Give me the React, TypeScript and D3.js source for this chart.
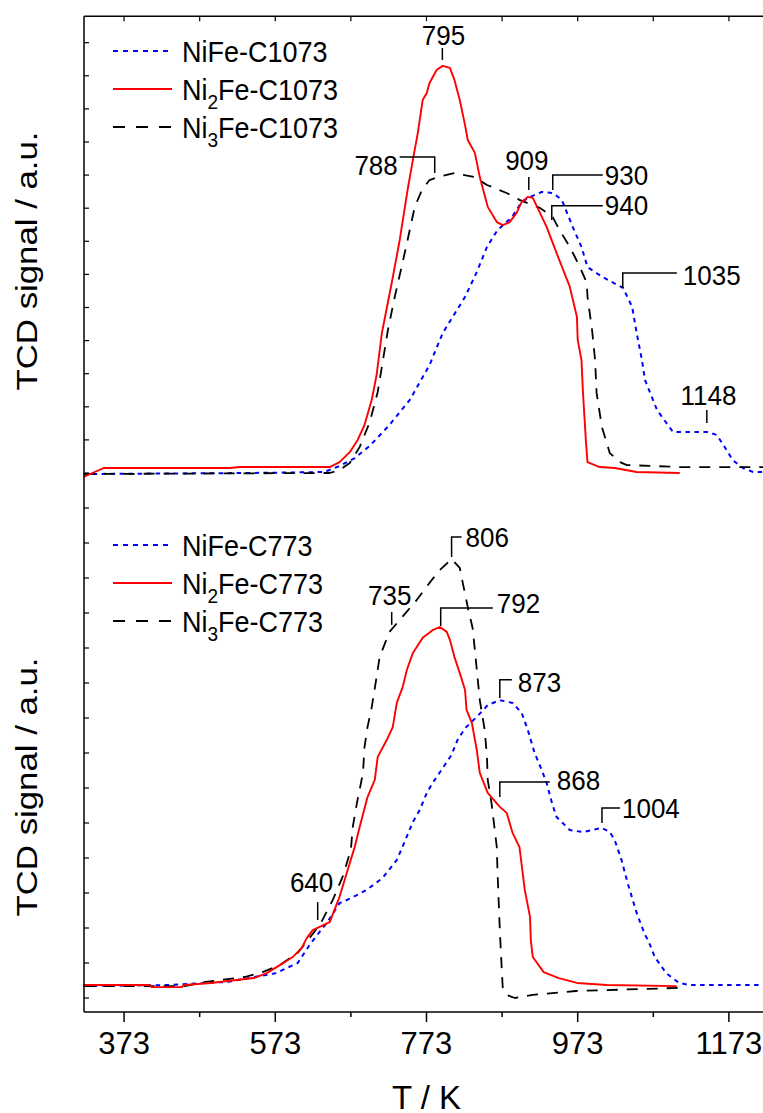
import React from 'react';
import * as d3 from 'd3';

// ---------- axis ticks ----------
const xTicksMajor = [373, 573, 773, 973, 1173];
const xTicksMinor = [473, 673, 873, 1073];
const xTicksTop = [373, 473, 573, 673, 773, 873, 973, 1073, 1173];
const yTicksTop = d3.range(0, 14, 1);
const yTicksBot = d3.range(0, 15, 1);

// ---------- data: [T (K), TCD signal (a.u.)] ----------
// Top panel (calcined at 1073 K)
const nife1073: [number, number][] = [
  [319.5, -0.03], [539, 0], [638, 0.03], [658, 0.21], [678, 0.45], [698, 0.82], [724, 1.45], [751, 2.21],
  [777, 3.26], [794.5, 4.23], [824, 5.32], [839.5, 6.07], [853, 6.83], [867, 7.34], [886, 7.73], [899, 8.19],
  [910, 8.34], [925.5, 8.49], [940, 8.46], [952, 8.25], [966.5, 7.43], [978, 6.83], [986, 6.22], [1006, 5.92],
  [1033, 5.59], [1045, 5.02], [1051, 4.23], [1058, 3.41], [1062, 2.81], [1078, 1.9], [1099, 1.24], [1121, 1.24],
  [1144, 1.24], [1157, 1.15], [1170, 0.69], [1178, 0.39], [1191.5, 0.15], [1205, 0.03], [1227, 0.03],
];
const ni2fe1073: [number, number][] = [
  [319.5, -0.12], [334, 0.03], [346, 0.15], [513, 0.15], [526, 0.18], [645, 0.18], [658, 0.33], [671.5, 0.63],
  [682, 1.0], [691, 1.45], [700.6, 2.21], [707, 2.96], [714, 4.23], [727, 5.74], [737.6, 7.04], [748, 8.55],
  [755, 9.46], [761.5, 10.27], [768, 11.27], [773.4, 11.48], [777, 11.78], [786.6, 12.18], [794.5, 12.3],
  [804, 12.24], [810, 11.87], [817, 11.27], [824, 10.51], [827.6, 10.06], [837, 9.67], [843.5, 8.94], [854, 8.04],
  [866, 7.58], [874, 7.49], [883, 7.58], [892, 7.85], [899, 8.19], [907, 8.34], [913.6, 8.31], [920, 8.01],
  [932, 7.43], [945, 6.65], [962.6, 5.62], [972, 4.71], [973, 4.02], [978, 3.41], [980, 2.42], [984, 0.91],
  [986, 0.33], [1002, 0.18], [1022, 0.15], [1051, 0.03], [1108, 0],
];
const ni3fe1073: [number, number][] = [
  [319.5, -0.03], [645, 0], [658, 0.09], [671.5, 0.3], [684.7, 0.79], [698, 1.54], [708.5, 2.45], [715, 3.35],
  [722, 4.32], [731, 5.32], [740, 6.22], [748, 7.04], [757.5, 8.04], [767, 8.55], [777, 8.85], [788, 8.94],
  [810, 9.06], [837, 8.94], [853, 8.7], [879, 8.46], [896, 8.25], [923, 8.01], [940, 7.73], [949, 7.34],
  [962.6, 6.83], [976, 6.22], [985, 5.74], [986, 5.32], [992, 4.32], [996, 3.41], [998, 2.42], [1005, 1.39],
  [1015.5, 0.6], [1029, 0.33], [1038, 0.24], [1108, 0.18], [1227, 0.18],
];

// Bottom panel (calcined at 773 K)
const nife773: [number, number][] = [
  [319.5, 0.34], [429, 0.37], [510, 0.46], [573.6, 0.71], [602.7, 1.0], [620, 1.57], [641, 2.14], [658, 2.71],
  [674, 2.86], [694, 3.09], [715, 3.43], [733.7, 3.94], [744, 4.46], [755, 5.03], [764, 5.37], [773.4, 5.86],
  [781, 6.14], [794.5, 6.57], [806, 6.94], [814, 7.37], [824, 7.71], [839.5, 8.03], [854, 8.37], [870, 8.51],
  [887, 8.43], [899, 8.14], [907, 7.66], [916, 7.0], [925.5, 6.51], [932, 6.14], [939, 5.57], [945, 5.17],
  [962.6, 4.8], [980, 4.74], [1005, 4.86], [1015.5, 4.74], [1022, 4.51], [1031, 3.94], [1039, 3.29], [1051, 2.43],
  [1062, 1.8], [1066, 1.66], [1075, 1.17], [1090, 0.71], [1107, 0.43], [1121, 0.37], [1227, 0.37],
];
const ni2fe773: [number, number][] = [
  [319.5, 0.37], [407, 0.37], [409.5, 0.31], [449, 0.31], [453, 0.37], [487.6, 0.43], [544.5, 0.57], [561.7, 0.71],
  [579, 0.94], [596, 1.17], [608, 1.43], [614.6, 1.71], [622.5, 1.94], [645, 2.17], [658, 2.89], [667.5, 3.57],
  [678, 4.31], [684.7, 4.89], [695, 5.74], [704.6, 6.23], [708.5, 6.89], [720.4, 7.37], [728.4, 7.74], [733.7, 8.43],
  [741.6, 8.89], [747, 9.37], [755, 9.86], [768, 10.29], [781, 10.51], [790.6, 10.6], [799.8, 10.46], [804, 10.23],
  [810, 9.74], [817, 9.29], [824, 8.8], [826, 8.23], [833, 7.86], [839.5, 7.09], [843.5, 6.43], [854, 5.86],
  [870, 5.46], [879, 5.29], [887, 4.71], [896, 4.31], [903, 3.09], [910, 2.31], [911, 1.66], [913.6, 1.17],
  [928, 0.74], [948, 0.57], [972, 0.43], [1011.5, 0.37], [1104, 0.34],
];
const ni3fe773: [number, number][] = [
  [319.5, 0.34], [453, 0.34], [481, 0.46], [532.6, 0.6], [556, 0.74], [579, 0.94], [602.7, 1.29], [632, 2.09],
  [649, 2.8], [662, 3.46], [673, 4.23], [675.5, 4.89], [681, 5.57], [689, 6.43], [691, 7.17], [695, 7.74],
  [700.6, 8.31], [707, 9.17], [711, 9.74], [724, 10.46], [737.6, 10.8], [760, 11.37], [777, 11.86], [790.6, 12.23],
  [806, 12.54], [817, 12.29], [821, 11.86], [827.6, 11.17], [834, 10.57], [837, 9.94], [843.5, 8.51], [850, 7.66],
  [853, 6.89], [854, 6.23], [859, 5.57], [866, 4.31], [867, 3.57], [870, 1.94], [872.6, 0.8], [874, 0.23],
  [882, 0.06], [890, 0], [913.6, 0.09], [970.5, 0.2], [1063, 0.26], [1108, 0.29],
];

// ---------- legends ----------
const legendTop = [
  { key: 'nife', parts: ['NiFe-C1073'] },
  { key: 'ni2fe', parts: ['Ni', '2', 'Fe-C1073'] },
  { key: 'ni3fe', parts: ['Ni', '3', 'Fe-C1073'] },
];
const legendBot = [
  { key: 'nife', parts: ['NiFe-C773'] },
  { key: 'ni2fe', parts: ['Ni', '2', 'Fe-C773'] },
  { key: 'ni3fe', parts: ['Ni', '3', 'Fe-C773'] },
];

// ---------- peak annotations ----------
type Annot = { label: string; path: [number, number][]; text: [number, number]; anchor: string };
const annotTop: Annot[] = [
  { label: '795', path: [[794, 12.48], [794, 12.84]], text: [795.5, 12.93], anchor: 'middle' },
  { label: '909', path: [[908.3, 8.55], [908.3, 8.94]], text: [905.7, 9.15], anchor: 'middle' },
  { label: '930', path: [[940, 8.55], [940, 9.0], [1006.2, 9.0]], text: [1008.8, 8.7], anchor: 'start' },
  { label: '940', path: [[938.7, 7.64], [938.7, 8.07], [1006.2, 8.07]], text: [1008.8, 7.79], anchor: 'start' },
  { label: '1035', path: [[1032.6, 5.59], [1032.6, 6.04], [1104.1, 6.04]], text: [1112, 5.68], anchor: 'start' },
  { label: '1148', path: [[1143.8, 1.51], [1143.8, 1.9]], text: [1146, 2.05], anchor: 'middle' },
  { label: '788', path: [[783.9, 9.06], [783.9, 9.55], [737.6, 9.55]], text: [735, 9.0], anchor: 'end' },
];
const annotBot: Annot[] = [
  { label: '806', path: [[806.2, 12.6], [806.2, 13.17], [819.4, 13.17]], text: [824.7, 12.89], anchor: 'start' },
  { label: '735', path: [[727, 10.66], [727, 11.03]], text: [724.4, 11.23], anchor: 'middle' },
  { label: '792', path: [[791.8, 10.63], [791.8, 11.14], [860.8, 11.14]], text: [866, 11.0], anchor: 'start' },
  { label: '873', path: [[870, 8.57], [870, 9.09], [885.9, 9.09]], text: [893.8, 8.74], anchor: 'start' },
  { label: '868', path: [[870, 5.74], [870, 6.17], [936.1, 6.17]], text: [945.3, 5.94], anchor: 'start' },
  { label: '1004', path: [[1005.1, 5.0], [1005.1, 5.43], [1028.9, 5.43]], text: [1031.6, 5.14], anchor: 'start' },
  { label: '640', path: [[629.1, 2.23], [629.1, 2.74]], text: [621, 3.03], anchor: 'middle' },
];

const FONT = "'Liberation Sans', Arial, Helvetica, sans-serif";
const styles: Record<string, { color: string; dash: string; width: number }> = {
  nife: { color: '#0000ff', dash: '4.5,4.5', width: 2 },
  ni2fe: { color: '#ff0000', dash: '', width: 1.9 },
  ni3fe: { color: '#000000', dash: '11,9', width: 1.8 },
};

export default function App() {
  const W = 763, H = 1113;
  const x = d3.scaleLinear().domain([320, 1230]).range([84, 772]);
  const yTop = d3.scaleLinear().domain([0, 13.8]).range([473, 16.2]);
  const yBot = d3.scaleLinear().domain([-0.4, 14]).range([1012, 508]);
  const left = x(320);
  const top = yTop(13.8);
  const bottom = yBot(-0.4);

  const lineTop = d3.line<[number, number]>().x(d => x(d[0])).y(d => yTop(d[1]));
  const lineBot = d3.line<[number, number]>().x(d => x(d[0])).y(d => yBot(d[1]));

  const topSeries = [
    { key: 'nife', data: nife1073 },
    { key: 'ni3fe', data: ni3fe1073 },
    { key: 'ni2fe', data: ni2fe1073 },
  ];
  const botSeries = [
    { key: 'nife', data: nife773 },
    { key: 'ni3fe', data: ni3fe773 },
    { key: 'ni2fe', data: ni2fe773 },
  ];

  const renderLegend = (items: typeof legendTop, y0: number) =>
    items.map((it, i) => {
      const cy = y0 + i * 38;
      const st = styles[it.key];
      return (
        <g key={it.key}>
          <line x1={113} x2={172} y1={cy} y2={cy} stroke={st.color} strokeWidth={st.width}
            strokeDasharray={it.key === 'nife' ? '5,5' : it.key === 'ni3fe' ? '12,11' : ''} />
          <text transform={`translate(182,${cy + 10.5}) scale(1,1.07)`} fontFamily={FONT} fontSize={27} fill="#000">
            {it.parts.length === 1 ? it.parts[0] : (
              <>
                <tspan>{it.parts[0]}</tspan>
                <tspan fontSize={19} dy={9}>{it.parts[1]}</tspan>
                <tspan dy={-9}>{it.parts[2]}</tspan>
              </>
            )}
          </text>
        </g>
      );
    });

  const renderAnnots = (items: Annot[], ys: d3.ScaleLinear<number, number>, ln: d3.Line<[number, number]>) =>
    items.map(a => (
      <g key={a.label}>
        <path d={ln(a.path) || ''} fill="none" stroke="#000" strokeWidth={1.5} />
        <text transform={`translate(${x(a.text[0])},${ys(a.text[1])}) scale(1,1.06)`}
          textAnchor={a.anchor} fontFamily={FONT} fontSize={26} fill="#000">{a.label}</text>
      </g>
    ));

  return (
    <svg width={W} height={H} style={{ position: 'absolute', left: 0, top: 0, display: 'block', background: '#fff' }}>
      <rect x={0} y={0} width={W} height={H} fill="#fff" />
      {/* curves */}
      {topSeries.map(s => (
        <path key={'t' + s.key} d={lineTop(s.data) || ''} fill="none" stroke={styles[s.key].color}
          strokeWidth={styles[s.key].width} strokeDasharray={styles[s.key].dash} strokeLinejoin="round" />
      ))}
      {botSeries.map(s => (
        <path key={'b' + s.key} d={lineBot(s.data) || ''} fill="none" stroke={styles[s.key].color}
          strokeWidth={styles[s.key].width} strokeDasharray={styles[s.key].dash} strokeLinejoin="round" />
      ))}

      {/* frame */}
      <line x1={left} x2={W + 5} y1={top} y2={top} stroke="#000" strokeWidth={1.5} />
      <line x1={left} x2={W + 5} y1={bottom} y2={bottom} stroke="#000" strokeWidth={1.5} />
      <line x1={left} x2={left} y1={top} y2={bottom} stroke="#000" strokeWidth={1.5} />

      {/* top ticks (inside) */}
      {xTicksTop.map(t => (
        <line key={'tt' + t} x1={x(t)} x2={x(t)} y1={top} y2={top + 5} stroke="#000" strokeWidth={1.2} />
      ))}
      {/* left ticks (inside) */}
      {yTicksTop.map(t => (
        <line key={'ly' + t} x1={left} x2={left + 5} y1={yTop(t)} y2={yTop(t)} stroke="#000" strokeWidth={1.2} />
      ))}
      {yTicksBot.map(t => (
        <line key={'lb' + t} x1={left} x2={left + 5} y1={yBot(t)} y2={yBot(t)} stroke="#000" strokeWidth={1.2} />
      ))}
      {/* bottom ticks */}
      {xTicksMajor.map(t => (
        <g key={'bx' + t}>
          <line x1={x(t)} x2={x(t)} y1={bottom} y2={bottom + 10} stroke="#000" strokeWidth={1.5} />
          <text x={x(t)} y={bottom + 42} textAnchor="middle" fontFamily={FONT} fontSize={31} fill="#000">{t}</text>
        </g>
      ))}
      {xTicksMinor.map(t => (
        <line key={'bm' + t} x1={x(t)} x2={x(t)} y1={bottom} y2={bottom + 5} stroke="#000" strokeWidth={1.5} />
      ))}

      {/* axis titles */}
      <text x={x(773)} y={1109} textAnchor="middle" fontFamily={FONT} fontSize={33} fill="#000">T / K</text>
      <text transform={`translate(37,${yTop(0) - 212}) rotate(-90) scale(1.16,1)`} textAnchor="middle"
        fontFamily={FONT} fontSize={30} fill="#000">TCD signal / a.u.</text>
      <text transform={`translate(37,${yBot(0) - 211}) rotate(-90) scale(1.16,1)`} textAnchor="middle"
        fontFamily={FONT} fontSize={30} fill="#000">TCD signal / a.u.</text>

      {/* legends */}
      {renderLegend(legendTop, 51)}
      {renderLegend(legendBot, 545)}

      {/* annotations */}
      {renderAnnots(annotTop, yTop, lineTop)}
      {renderAnnots(annotBot, yBot, lineBot)}
    </svg>
  );
}
